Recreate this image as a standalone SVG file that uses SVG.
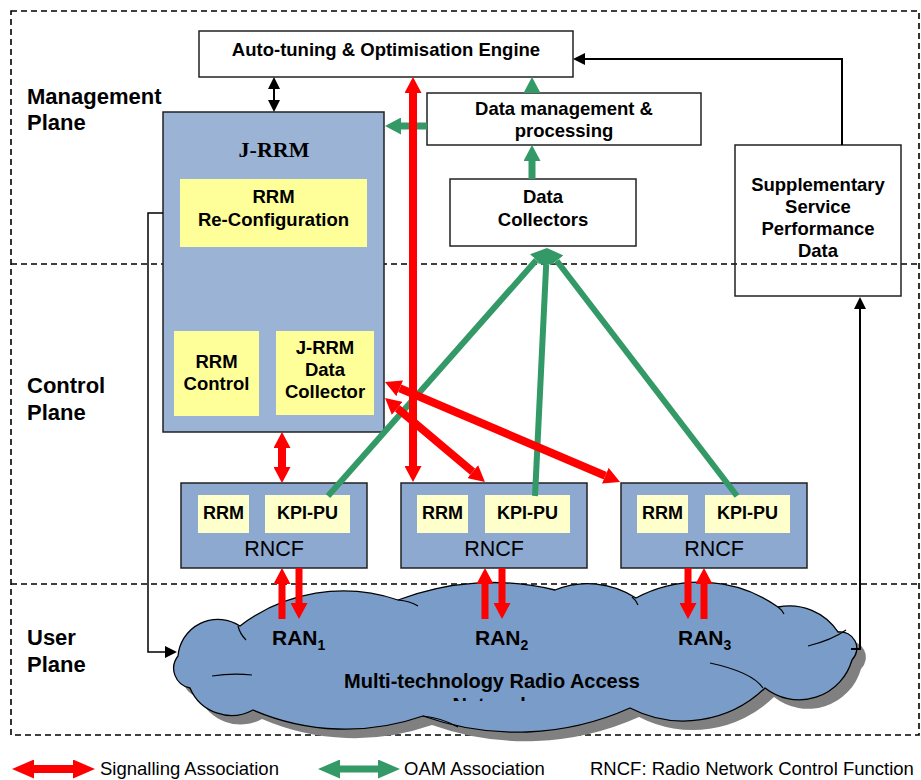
<svg xmlns="http://www.w3.org/2000/svg" width="921" height="780" viewBox="0 0 921 780">
<style>
text{font-family:"Liberation Sans",Arial,sans-serif;fill:#000}
.b{font-weight:bold;font-size:18.5px}
.pl{font-weight:bold;font-size:22px}
.c{text-anchor:middle}
.box{fill:#fff;stroke:#222;stroke-width:1.5}
.jr{fill:#9BB3D5;stroke:#222;stroke-width:1.5}
.rn{fill:#8DA9D0;stroke:#222;stroke-width:1.5}
.y1{fill:#FFFF99}
.y2{fill:#FFFFCC}
.dash{fill:none;stroke:#000;stroke-width:1.6;stroke-dasharray:6,4}
.red{stroke:#FF0000;stroke-width:8;fill:none}
.red7{stroke:#FF0000;stroke-width:7;fill:none}
.grn{stroke:#339966;stroke-width:7;fill:none}
.grn6{stroke:#339966;stroke-width:6;fill:none}
.blk{stroke:#000;stroke-width:2;fill:none}
.leg{font-size:18.5px}
</style>
<defs>
<marker id="rh" markerUnits="userSpaceOnUse" viewBox="0 0 16 17" markerWidth="16" markerHeight="17" refX="0" refY="8.5" orient="auto-start-reverse"><path d="M0,0 L16,8.5 L0,17 z" fill="#FF0000"/></marker>
<marker id="gh" markerUnits="userSpaceOnUse" viewBox="0 0 16 17" markerWidth="16" markerHeight="17" refX="0" refY="8.5" orient="auto-start-reverse"><path d="M0,0 L16,8.5 L0,17 z" fill="#339966"/></marker>
<marker id="rl" markerUnits="userSpaceOnUse" viewBox="0 0 22 19" markerWidth="22" markerHeight="19" refX="0" refY="9.5" orient="auto-start-reverse"><path d="M0,0 L22,9.5 L0,19 z" fill="#FF0000"/></marker>
<marker id="gl" markerUnits="userSpaceOnUse" viewBox="0 0 22 19" markerWidth="22" markerHeight="19" refX="0" refY="9.5" orient="auto-start-reverse"><path d="M0,0 L22,9.5 L0,19 z" fill="#339966"/></marker>
<marker id="bh" markerUnits="userSpaceOnUse" viewBox="0 0 12 12" markerWidth="12" markerHeight="12" refX="0" refY="6" orient="auto-start-reverse"><path d="M0,0 L12,6 L0,12 z" fill="#000"/></marker>
<clipPath id="netclip"><rect x="300" y="690" width="400" height="11"/></clipPath>
<path id="cloudshape" d="M178,656 A40,40 0 0 1 240,626 A170,170 0 0 1 398,600 A264,264 0 0 1 555,590 A88,88 0 0 1 636,598 A136,136 0 0 1 778,607 A58,58 0 0 1 838,632 A16.5,16.5 0 0 1 852,660 A55,55 0 0 1 765,688 A117,117 0 0 1 630,708 A278,278 0 0 1 423,716 A234,234 0 0 1 253,710 A45,45 0 0 1 190,688 A20,20 0 0 1 178,656 Z"/>
</defs>

<g id="planes">
<rect class="dash" x="11" y="11" width="908" height="724"/>
<line class="dash" x1="11" y1="264" x2="919" y2="264"/>
<line class="dash" x1="11" y1="584" x2="919" y2="584"/>
<text class="pl" x="27" y="104">Management</text>
<text class="pl" x="27" y="130">Plane</text>
<text class="pl" x="27" y="393">Control</text>
<text class="pl" x="27" y="420">Plane</text>
<text class="pl" x="27" y="645">User</text>
<text class="pl" x="27" y="672">Plane</text>
</g>

<g id="cloud">
<use href="#cloudshape" transform="translate(9,9)" fill="#808080"/>
<use href="#cloudshape" fill="#7A9CC8" stroke="#000" stroke-width="1.3"/>
<g fill="none" stroke="#000" stroke-width="1.2">
<path d="M238,626 Q240,634 246,640"/>
<path d="M212,676 Q232,673 252,675"/>
<path d="M398,600 Q410,601 418,606"/>
<path d="M632,597 Q636,600 638,605"/>
<path d="M778,607 Q782,610 784,614"/>
<path d="M808,646 Q832,640 846,630"/>
<path d="M710,663 Q752,672 763,688"/>
<path d="M423,716 Q442,718 458,727"/>
</g>
<text x="272" y="645" style="font-weight:bold;font-size:21px">RAN<tspan dy="5" style="font-size:14px">1</tspan></text>
<text x="475" y="645" style="font-weight:bold;font-size:21px">RAN<tspan dy="5" style="font-size:14px">2</tspan></text>
<text x="678" y="645" style="font-weight:bold;font-size:21px">RAN<tspan dy="5" style="font-size:14px">3</tspan></text>
<text class="c" x="492" y="688" style="font-weight:bold;font-size:20px">Multi-technology Radio Access</text>
<text class="c" x="492" y="712" clip-path="url(#netclip)" style="font-weight:bold;font-size:20px">Network</text>
</g>

<g id="auto">
<rect class="box" x="199" y="31" width="374" height="46"/>
<text class="b c" x="386" y="56">Auto-tuning &amp; Optimisation Engine</text>
</g>

<g id="datamgmt">
<rect class="box" x="427" y="93" width="274" height="52"/>
<text class="b c" x="564" y="115">Data management &amp;</text>
<text class="b c" x="564" y="137">processing</text>
</g>

<g id="collectors">
<rect class="box" x="450" y="179" width="186" height="67"/>
<text class="b c" x="543" y="203">Data</text>
<text class="b c" x="543" y="226">Collectors</text>
</g>

<g id="supplementary">
<rect x="735" y="145" width="166" height="151" fill="none" stroke="#222" stroke-width="1.5"/>
<text class="b c" x="818" y="191">Supplementary</text>
<text class="b c" x="818" y="213">Service</text>
<text class="b c" x="818" y="235">Performance</text>
<text class="b c" x="818" y="257">Data</text>
</g>

<g id="jrrm">
<rect class="jr" x="163" y="112" width="221" height="320"/>
<text class="c" x="274" y="157" style="font-family:'Liberation Serif','Times New Roman',serif;font-weight:bold;font-size:22px">J-RRM</text>
<rect class="y1" x="180" y="179" width="187" height="68"/>
<text class="b c" x="273.5" y="203">RRM</text>
<text class="b c" x="273.5" y="226">Re-Configuration</text>
<rect class="y1" x="174" y="331" width="85" height="85"/>
<text class="b c" x="216.5" y="368">RRM</text>
<text class="b c" x="216.5" y="390">Control</text>
<rect class="y1" x="276" y="331" width="98" height="84"/>
<text class="b c" x="325" y="354">J-RRM</text>
<text class="b c" x="325" y="376">Data</text>
<text class="b c" x="325" y="398">Collector</text>
</g>

<g id="rncf1">
<rect class="rn" x="181" y="483" width="186" height="85"/>
<rect class="y2" x="198" y="495" width="51" height="38"/>
<text class="b c" x="223.5" y="519" style="font-size:18px">RRM</text>
<rect class="y2" x="265" y="495" width="85" height="38"/>
<text class="b c" x="307.5" y="519" style="font-size:18px">KPI-PU</text>
<text class="c" x="274" y="556" style="font-size:21.5px">RNCF</text>
</g>
<g id="rncf2">
<rect class="rn" x="401" y="483" width="186" height="85"/>
<rect class="y2" x="417" y="495" width="51" height="38"/>
<text class="b c" x="442.5" y="519" style="font-size:18px">RRM</text>
<rect class="y2" x="485" y="495" width="85" height="38"/>
<text class="b c" x="527.5" y="519" style="font-size:18px">KPI-PU</text>
<text class="c" x="494" y="556" style="font-size:21.5px">RNCF</text>
</g>
<g id="rncf3">
<rect class="rn" x="621" y="483" width="186" height="85"/>
<rect class="y2" x="637" y="495" width="51" height="38"/>
<text class="b c" x="662.5" y="519" style="font-size:18px">RRM</text>
<rect class="y2" x="705" y="495" width="85" height="38"/>
<text class="b c" x="747.5" y="519" style="font-size:18px">KPI-PU</text>
<text class="c" x="714" y="556" style="font-size:21.5px">RNCF</text>
</g>

<g id="connectors">
<line class="blk" x1="274" y1="89" x2="274" y2="100" marker-start="url(#bh)" marker-end="url(#bh)"/>
<path class="blk" d="M842,145 V59 H585" marker-end="url(#bh)"/>
<path class="blk" d="M851,649 H860 V309" marker-end="url(#bh)"/>
<path d="M163,213 H148 V652 H165" fill="none" stroke="#000" stroke-width="1.5" marker-end="url(#bh)"/>
<line class="grn" x1="427" y1="126" x2="401" y2="126" marker-end="url(#gh)"/>
<path d="M523.5,93 L532,77 L540.5,93 z" fill="#339966"/>
<line class="grn" x1="532" y1="179" x2="532" y2="161" marker-end="url(#gh)"/>
<line class="grn6" x1="328" y1="496" x2="536.4" y2="260" marker-end="url(#gh)"/>
<line class="grn6" x1="535" y1="496" x2="546.2" y2="264" marker-end="url(#gh)"/>
<line class="grn6" x1="737" y1="496" x2="556.7" y2="260.7" marker-end="url(#gh)"/>
<line class="red" x1="413" y1="93" x2="413" y2="466" marker-start="url(#rh)" marker-end="url(#rh)"/>
<line class="red" x1="282" y1="448" x2="282" y2="467" marker-start="url(#rh)" marker-end="url(#rh)"/>
<line class="red" x1="399.7" y1="388.3" x2="605.3" y2="475.7" marker-start="url(#rh)" marker-end="url(#rh)"/>
<line class="red" x1="397.3" y1="408.3" x2="472.7" y2="471.7" marker-start="url(#rh)" marker-end="url(#rh)"/>
<line class="red7" x1="282" y1="619" x2="282" y2="584" marker-end="url(#rh)"/>
<line class="red7" x1="299" y1="568" x2="299" y2="603" marker-end="url(#rh)"/>
<line class="red7" x1="485" y1="619" x2="485" y2="584" marker-end="url(#rh)"/>
<line class="red7" x1="502" y1="568" x2="502" y2="603" marker-end="url(#rh)"/>
<line class="red7" x1="688" y1="568" x2="688" y2="603" marker-end="url(#rh)"/>
<line class="red7" x1="704" y1="619" x2="704" y2="584" marker-end="url(#rh)"/>
</g>

<g id="legend">
<line class="red" x1="34" y1="769" x2="73" y2="769" marker-start="url(#rl)" marker-end="url(#rl)"/>
<text class="leg" x="100" y="775">Signalling Association</text>
<line class="grn" x1="340" y1="769" x2="378" y2="769" marker-start="url(#gl)" marker-end="url(#gl)"/>
<text class="leg" x="404" y="775">OAM Association</text>
<text class="leg" x="590" y="775">RNCF: Radio Network Control Function</text>
</g>
</svg>
